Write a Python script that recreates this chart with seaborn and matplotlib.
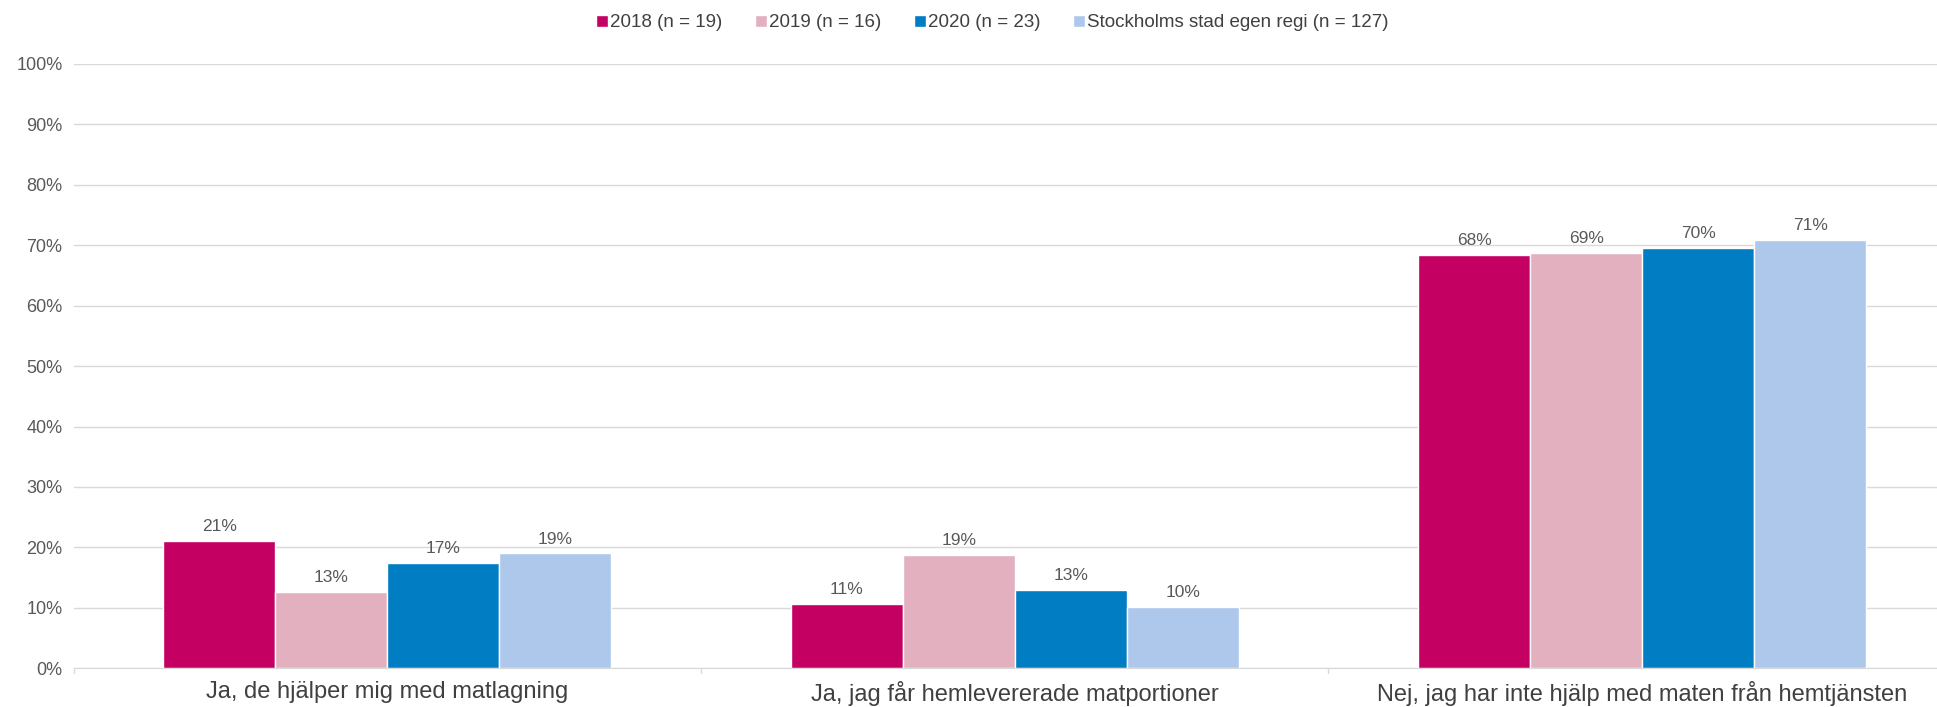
import pandas as pd
import seaborn as sns
import matplotlib.pyplot as plt
from matplotlib.ticker import FuncFormatter

# data
categories = ['Ja, de hjälper mig med matlagning',
              'Ja, jag får hemlevererade matportioner',
              'Nej, jag har inte hjälp med maten från hemtjänsten']
series = ['2018 (n = 19)', '2019 (n = 16)', '2020 (n = 23)',
          'Stockholms stad egen regi (n = 127)']
v2018 = [21.1, 10.6, 68.4]
v2019 = [12.6, 18.8, 68.8]
v2020 = [17.4, 13.0, 69.6]
vstad = [19.0, 10.2, 70.9]
colors = ['#C40062', '#E3B0C0', '#007DC3', '#ADC8EB']

rows = []
for s, vals in zip(series, [v2018, v2019, v2020, vstad]):
    for c, v in zip(categories, vals):
        rows.append({'kategori': c, 'serie': s, 'andel': v})
df = pd.DataFrame(rows)

sns.set_style('white')
plt.rcParams['font.family'] = ['Liberation Sans', 'DejaVu Sans']

fig = plt.figure(figsize=(19.37, 7.07), dpi=100)
ax = fig.add_axes([0.038, 0.0548, 0.962, 0.8547])

sns.barplot(data=df, x='kategori', y='andel', hue='serie', order=categories,
            hue_order=series, palette=colors, width=0.714, gap=0,
            saturation=1, ax=ax, legend=True)

for cont in ax.containers:
    ax.bar_label(cont, labels=[f'{v:.0f}%' for v in cont.datavalues],
                 padding=5, fontsize=12.5, color='#595959')

ax.set_ylim(0, 100)
ax.set_xlim(-0.5, 2.47)
ax.set_yticks(range(0, 101, 10))
ax.yaxis.set_major_formatter(FuncFormatter(lambda v, p: f'{v:.0f}%'))
ax.yaxis.grid(True, color='#D9D9D9', linewidth=1)
ax.set_axisbelow(True)
ax.set_xlabel('')
ax.set_ylabel('')
for side in ['top', 'right', 'left']:
    ax.spines[side].set_visible(False)
ax.spines['bottom'].set_color('#D9D9D9')
ax.tick_params(axis='y', length=0, labelsize=13, labelcolor='#595959', pad=8)
ax.tick_params(axis='x', length=0, labelsize=17, labelcolor='#404040', pad=9)
for xb in [-0.5, 0.5, 1.5]:
    ax.plot([xb, xb], [0, -0.8], color='#D9D9D9', lw=1, clip_on=False)

ax.legend(loc='upper center', bbox_to_anchor=(0.493, 1.11), ncol=4,
          frameon=False, fontsize=13.5, handlelength=0.65, handleheight=0.65,
          handletextpad=0.1, columnspacing=1.75, labelcolor='#404040')

fig.savefig('out.png', dpi=100)
